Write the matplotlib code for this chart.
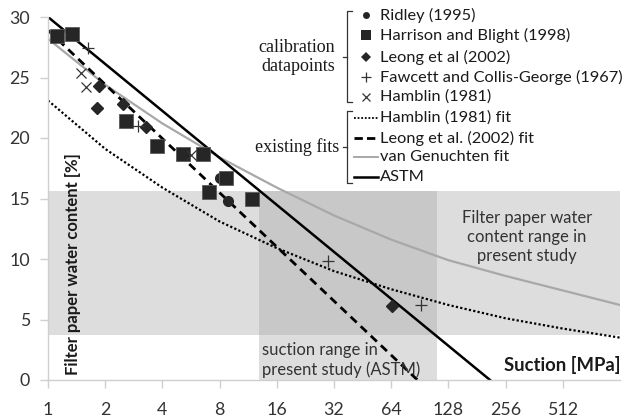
import matplotlib
matplotlib.use("Agg")
import matplotlib.pyplot as plt
from matplotlib.lines import Line2D

# ---------------- data ----------------
xticks = [1, 2, 4, 8, 16, 32, 64, 128, 256, 512]
yticks = [0, 5, 10, 15, 20, 25, 30]

ridley_x = [8.0, 8.9]
ridley_y = [16.7, 14.8]
harrison_x = [1.11, 1.33, 2.56, 3.75, 5.12, 6.54, 8.65, 7.04, 11.9]
harrison_y = [28.4, 28.6, 21.4, 19.3, 18.7, 18.7, 16.7, 15.5, 15.0]
leong_x = [1.81, 1.86, 2.47, 3.27, 64.4]
leong_y = [22.5, 24.3, 22.8, 20.9, 6.1]
fawcett_x = [1.63, 2.96, 29.6, 91.5]
fawcett_y = [27.4, 21.0, 9.8, 6.2]
hamblin_x = [1.49, 1.58, 5.66]
hamblin_y = [25.4, 24.2, 18.6]

fit_x = [1, 2, 4, 8, 16, 32, 64, 128, 256, 512, 1024]
hamblin_fit_y = [23.1, 19.1, 15.9, 13.1, 10.9, 9.0, 7.5, 6.2, 5.1, 4.25, 3.5]
vg_fit_y = [28.2, 24.4, 21.2, 18.4, 15.9, 13.6, 11.6, 9.9, 8.6, 7.4, 6.2]
leong_fit_x = [1, 88]
leong_fit_y = [28.9, 0]
astm_x = [1, 212]
astm_y = [30, 0]

wc_band = (3.7, 15.6)      # filter paper water content range
suction_band = (12.9, 111)  # suction range (ASTM)

# ---------------- figure ----------------
W, H = 626, 418
fig = plt.figure(figsize=(W / 100, H / 100), dpi=100)
ax = fig.add_axes([48 / W, 1 - 380 / H, (620 - 48) / W, (380 - 17) / H])
ax.set_xscale("log", base=2)
ax.set_xlim(1, 1024)
ax.set_ylim(0, 30)

light = "#dddddd"
dark = "#c8c8c8"
ax.fill_between([1, 1024], wc_band[0], wc_band[1], color=light, lw=0, zorder=0)
ax.fill_between(list(suction_band), 0, wc_band[0], color=light, lw=0, zorder=0)
ax.fill_between(list(suction_band), wc_band[0], wc_band[1], color=dark, lw=0, zorder=0)

ax.plot(fit_x, vg_fit_y, color="#a8a8a8", lw=1.6, zorder=2)
ax.plot(fit_x, hamblin_fit_y, color="black", lw=1.6, ls=(0, (1, 1)), zorder=2)
ax.plot(leong_fit_x, leong_fit_y, color="black", lw=2.0, ls=(0, (3, 2)), zorder=2)
ax.plot(astm_x, astm_y, color="black", lw=1.8, zorder=2)

mc = "#262626"
ax.plot(ridley_x, ridley_y, "o", ms=7, color=mc, zorder=3)
ax.plot(harrison_x, harrison_y, "s", ms=9.5, color=mc, mec="#5a5a5a", mew=0.6, zorder=4)
ax.plot(leong_x, leong_y, "D", ms=6.5, color=mc, zorder=4)
ax.plot(fawcett_x, fawcett_y, "+", ms=8, color="#333333", mew=0.9, zorder=4)
ax.plot(hamblin_x, hamblin_y, "x", ms=7, color="#333333", mew=0.9, zorder=4)

# axes styling
for s in ["top", "right"]:
    ax.spines[s].set_visible(False)
for s in ["left", "bottom"]:
    ax.spines[s].set_color("#cfcfcf")
    ax.spines[s].set_linewidth(1.0)
ax.set_xticks(xticks)
ax.set_xticklabels([str(t) for t in xticks])
ax.set_yticks(yticks)
ax.minorticks_off()
ax.tick_params(axis="both", colors="#cfcfcf", labelcolor="#333333",
               labelsize=12.8, length=6, width=1.0)
ax.tick_params(axis="x", pad=10)
ax.tick_params(axis="y", pad=7)
for lab in ax.get_xticklabels() + ax.get_yticklabels():
    lab.set_family("Lato")

ax.text(0.03, 0.015, "Filter paper water content [%]", transform=ax.transAxes,
        rotation=90, ha="left", va="bottom", fontsize=12, fontweight="bold",
        family="Lato", color="#1a1a1a")
ax.text(1.0, 0.04, "Suction [MPa]", transform=ax.transAxes, ha="right",
        va="center", fontsize=13.3, fontweight="bold", family="Lato", color="#1a1a1a")
ax.text(527 / W, 1 - 237 / H, "Filter paper water\ncontent range in\npresent study",
        transform=fig.transFigure, ha="center", va="center", fontsize=12,
        family="Lato", color="#333333", linespacing=1.2)
ax.text(262 / W, 1 - 360 / H, "suction range in\npresent study (ASTM)",
        transform=fig.transFigure, ha="left", va="center", fontsize=12,
        family="Lato", color="#333333", linespacing=1.2)

# ---------------- manual legend ----------------
def P(x, y):
    return (x / W, 1 - y / H)

def fline(xs, ys, **kw):
    fig.add_artist(Line2D([x / W for x in xs], [1 - y / H for y in ys],
                          transform=fig.transFigure, **kw))

rows = [15, 35, 57, 77, 97, 118, 138, 157, 177]
labels = ["Ridley (1995)", "Harrison and Blight (1998)", "Leong et al (2002)",
          "Fawcett and Collis-George (1967)", "Hamblin (1981)",
          "Hamblin (1981) fit", "Leong et al. (2002) fit", "van Genuchten fit", "ASTM"]
for y, lab in zip(rows, labels):
    fig.text(*P(380, y), lab, ha="left", va="center", fontsize=11.8, family="Lato",
             color="#1a1a1a")
mk = [("o", 5, mc, 0), ("s", 7, mc, 0), ("D", 5, mc, 0), ("+", 7, "#333333", 0.9),
      ("x", 6, "#333333", 0.9)]
for y, (m, s, c, mew) in zip(rows[:5], mk):
    fline([366], [y], marker=m, ms=s, color=c, mew=mew, ls="none")
fline([354, 378], [rows[5]] * 2, color="black", lw=1.3, ls=(0, (1, 1)))
fline([354, 378], [rows[6]] * 2, color="black", lw=2.0, ls=(0, (3, 1.5)))
fline([354, 378], [rows[7]] * 2, color="#a8a8a8", lw=1.4)
fline([354, 378], [rows[8]] * 2, color="black", lw=1.8)

bc = "#333333"
# bracket 1
fline([352, 347, 347, 352], [11, 11, 102, 102], color=bc, lw=0.9)
fline([343, 347], [57, 57], color=bc, lw=0.9)
fig.text(*P(335, 57), "calibration\ndatapoints", ha="right", va="center",
         fontsize=13, family="Liberation Serif", color="#1a1a1a", linespacing=1.1)
# bracket 2
fline([352, 347, 347, 352], [111, 111, 183, 183], color=bc, lw=0.9)
fline([343, 347], [147, 147], color=bc, lw=0.9)
fig.text(*P(339, 147), "existing fits", ha="right", va="center",
         fontsize=13, family="Liberation Serif", color="#1a1a1a")

fig.savefig("out.png", dpi=100)
